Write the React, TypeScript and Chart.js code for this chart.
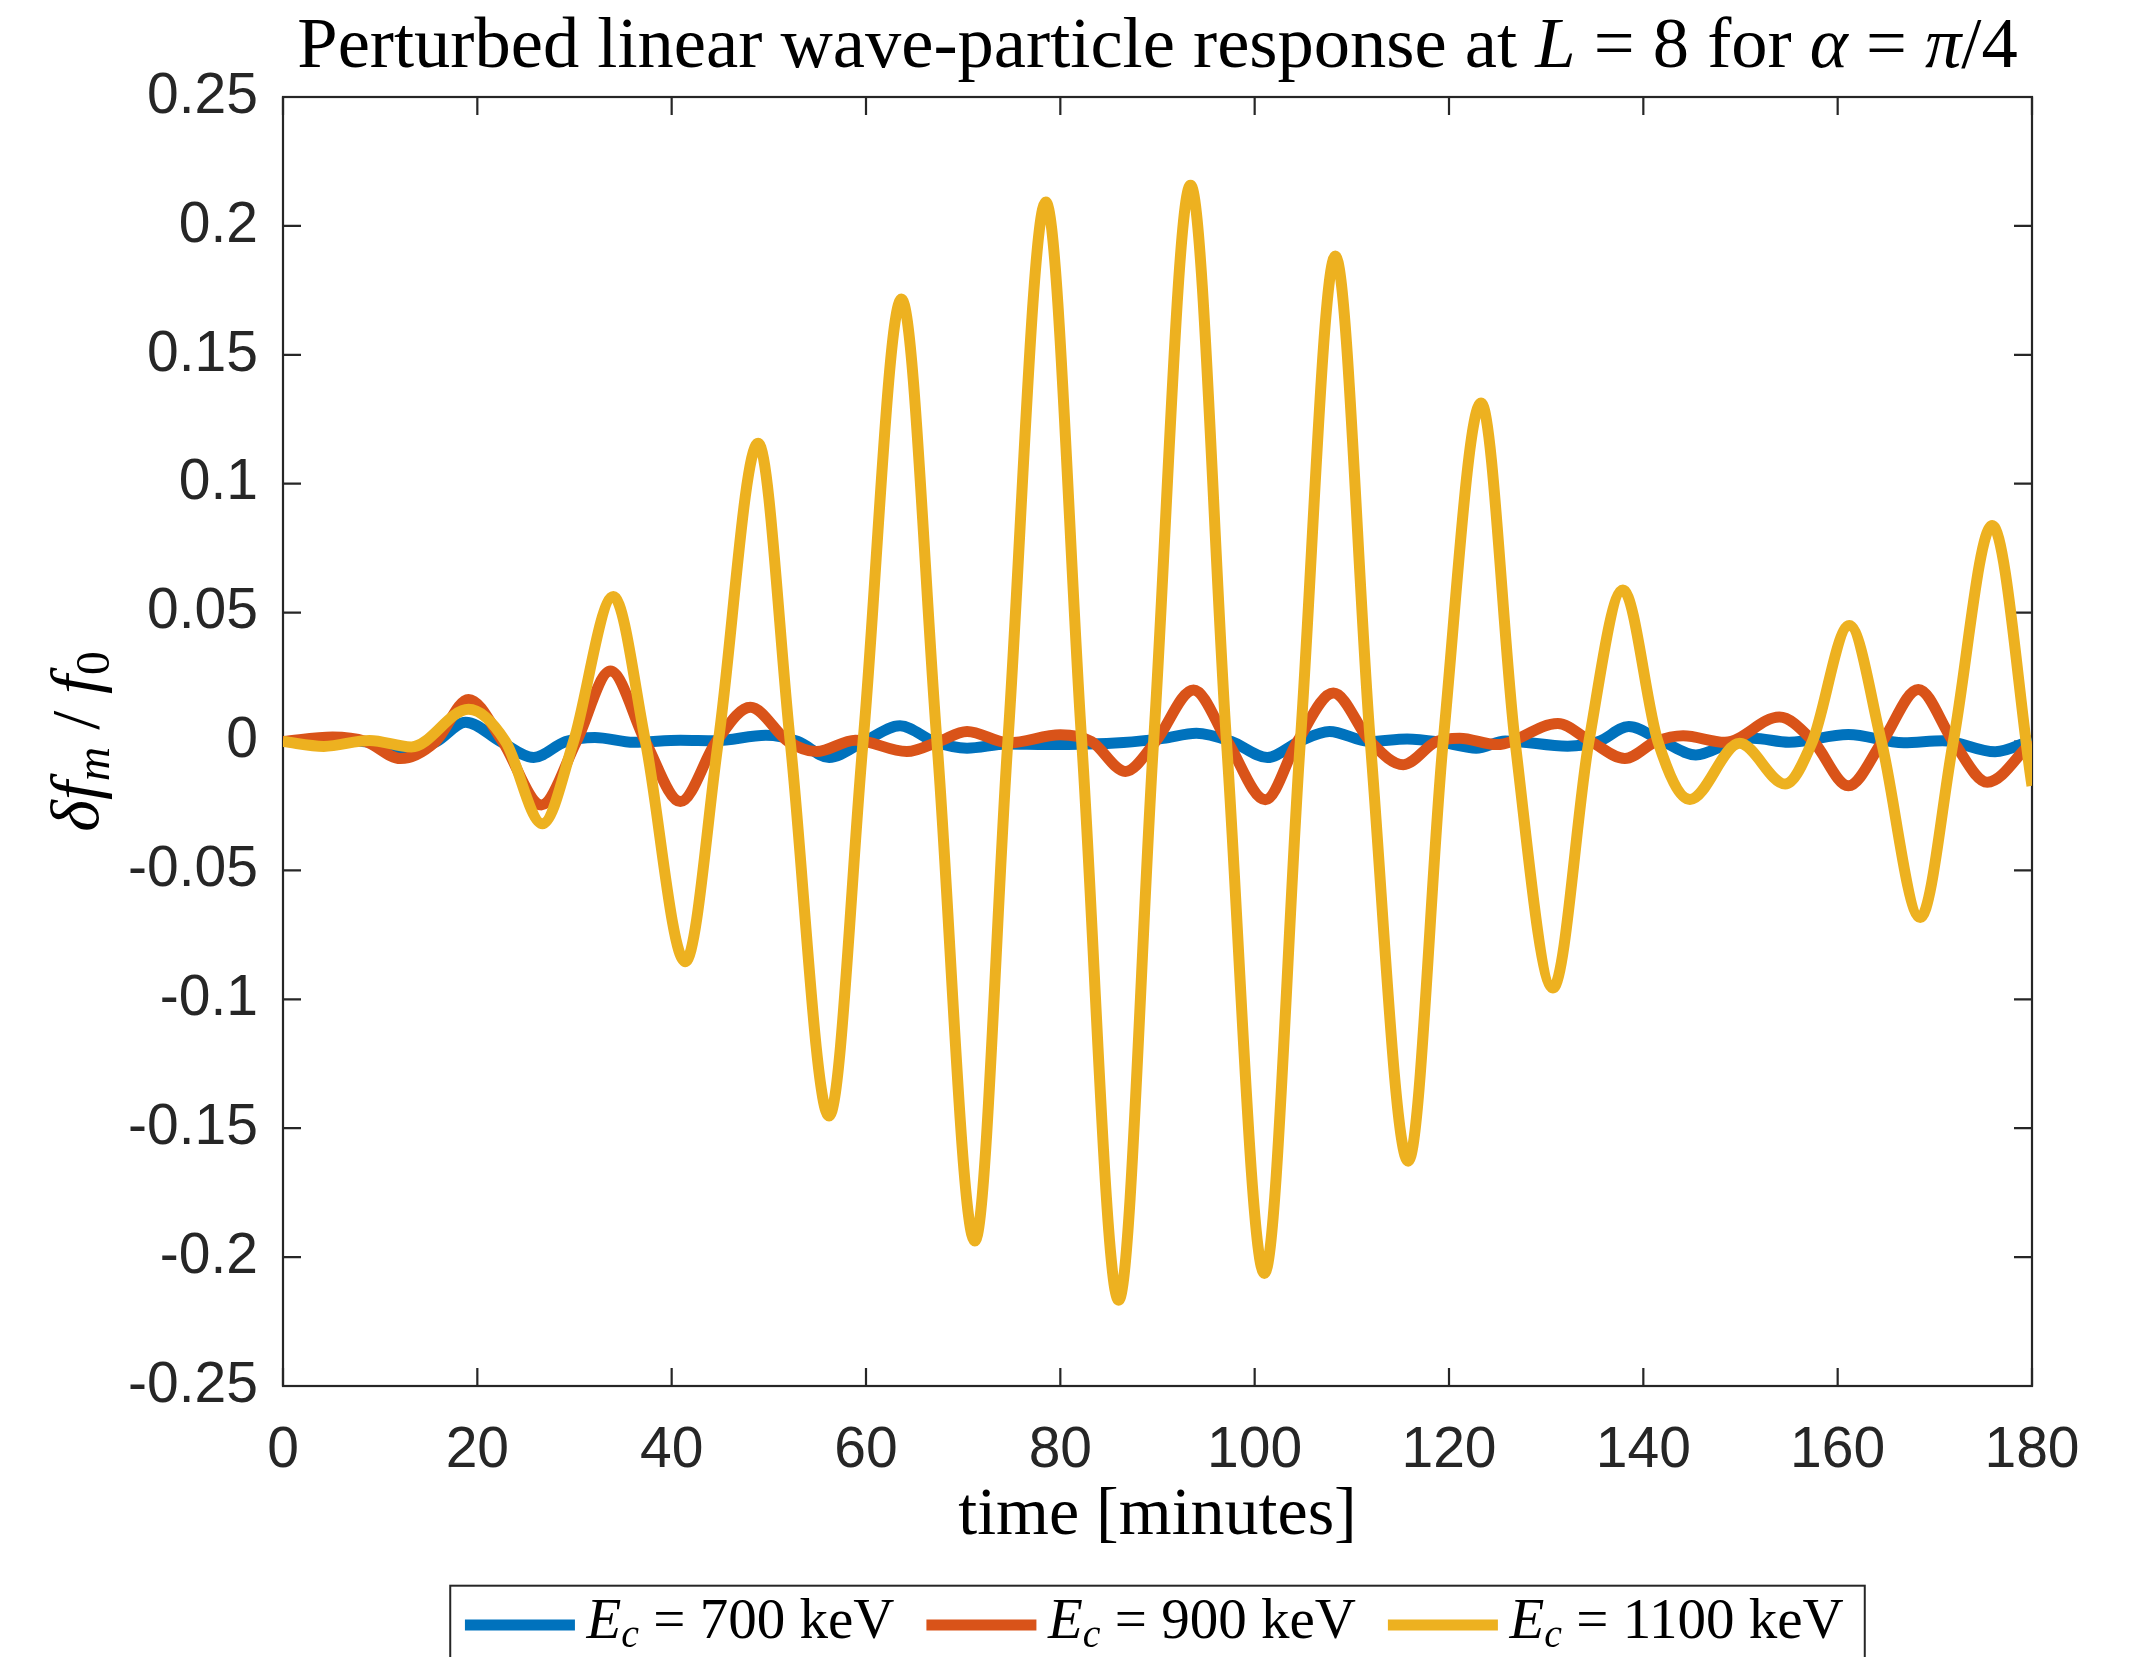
import React, { useEffect, useRef } from 'react';
import { Chart, registerables } from 'chart.js';

Chart.register(...registerables);

// ---------- data ----------
const X_TICKS = [0, 20, 40, 60, 80, 100, 120, 140, 160, 180];
const X_TICK_LABELS = ['0', '20', '40', '60', '80', '100', '120', '140', '160', '180'];
const Y_TICKS = [-0.25, -0.2, -0.15, -0.1, -0.05, 0, 0.05, 0.1, 0.15, 0.2, 0.25];
const Y_TICK_LABELS = ['-0.25', '-0.2', '-0.15', '-0.1', '-0.05', '0', '0.05', '0.1', '0.15', '0.2', '0.25'];

const SERIES_ENERGY_KEV = [700, 900, 1100];
const SERIES_COLORS = ['#0072BD', '#D95319', '#EDB120'];

// Ec = 700 keV
const T_700 = [0, 6, 9.5, 13.0, 15.8, 18.8, 22.4, 25.8, 29.1, 32.1, 36.1, 40.9, 44.5, 49.7, 53.0, 56.2, 59.8, 63.5, 67.0, 70.4, 74.5, 78.6, 86.5, 90.6, 94.0, 97.6, 101.3, 104.6, 107.7, 111.8, 115.7, 119.5, 122.8, 125.8, 132.2, 135.4, 138.5, 142.0, 145.4, 149.0, 151.3, 155.0, 161.1, 166.8, 170.8, 176.2, 180];
const V_700 = [0, 0.0003, -0.0005, -0.0035, 0, 0.0075, 0, -0.0062, 0, 0.0016, -0.0003, 0.0005, 0.0003, 0.0024, 0, -0.0062, 0, 0.0061, 0, -0.0026, -0.001, -0.0012, -0.0004, 0.0012, 0.0032, 0, -0.0062, 0, 0.0039, 0, 0.001, -0.0005, -0.0026, 0.0002, -0.0018, 0, 0.0058, 0, -0.0052, -0.0005, 0.0013, -0.0003, 0.0027, -0.0005, 0.0003, -0.004, 0.0005];

// Ec = 900 keV
const T_900 = [0, 5.1, 8.5, 12.1, 15.7, 19.1, 22.6, 26.6, 30.2, 33.7, 37.3, 40.9, 44.6, 48.1, 52.0, 54.9, 58.9, 64.2, 67.5, 70.4, 74.7, 80.0, 83.2, 86.7, 89.8, 93.7, 97.2, 101.1, 104.4, 108.1, 111.9, 115.3, 118.7, 121.1, 124.9, 131.2, 134.6, 138.1, 141.3, 144.1, 148.4, 154.0, 157.5, 161.1, 164.6, 168.3, 171.9, 175.4, 180];
const V_900 = [0, 0.0017, 0, -0.0066, 0, 0.0163, 0, -0.0246, 0, 0.0273, 0, -0.0233, 0, 0.0133, 0, -0.0039, 0.0005, -0.0039, 0, 0.0039, -0.0005, 0.0026, 0, -0.0116, 0, 0.020, 0, -0.0226, 0, 0.0188, 0, -0.009, 0, 0.0013, -0.0012, 0.007, 0, -0.0066, 0, 0.0022, -0.0003, 0.0095, 0, -0.0172, 0, 0.0202, 0, -0.0158, 0];

// Ec = 1100 keV
const T_1100 = [0, 4.2, 8.9, 13.2, 19.1, 22.9, 26.7, 29.9, 34.0, 37.3, 41.4, 44.8, 48.9, 52.2, 56.2, 59.7, 63.65, 67.3, 71.2, 74.6, 78.5, 82.2, 86.0, 89.6, 93.4, 97.1, 101.0, 104.7, 108.3, 111.9, 115.8, 119.4, 123.3, 126.8, 130.7, 134.4, 137.9, 141.5, 144.8, 149.9, 154.6, 157.4, 161.2, 164.5, 168.5, 171.9, 175.9, 180];
const V_1100 = [0, -0.0019, 0.0004, -0.0021, 0.0125, 0, -0.0319, 0, 0.0562, 0, -0.0854, 0, 0.1157, 0, -0.1453, 0, 0.1716, 0, -0.1938, 0, 0.2093, 0, -0.2167, 0, 0.2158, 0, -0.2064, 0, 0.1883, 0, -0.1628, 0, 0.1313, 0, -0.0956, 0, 0.0588, 0, -0.0225, -0.0007, -0.0165, 0, 0.045, 0, -0.0683, 0, 0.0838, -0.0172];

const SERIES_T = [T_700, T_900, T_1100];
const SERIES_V = [V_700, V_900, V_1100];

// ---------- rich text helpers ----------
type Piece = { text: string; italic?: boolean; sub?: boolean };
const SERIF = '"Liberation Serif", "DejaVu Serif", "Times New Roman", serif';
const SANS = '"Liberation Sans", Arial, Helvetica, sans-serif';

function pieceFont(p: Piece, size: number) {
  const s = p.sub ? size * 0.7 : size;
  return `${p.italic ? 'italic ' : ''}${s}px ${SERIF}`;
}
function measurePieces(ctx: CanvasRenderingContext2D, pieces: Piece[], size: number) {
  let w = 0;
  for (const p of pieces) {
    ctx.font = pieceFont(p, size);
    w += ctx.measureText(p.text).width;
  }
  return w;
}
function drawPieces(ctx: CanvasRenderingContext2D, pieces: Piece[], x: number, y: number, size: number, color: string) {
  ctx.fillStyle = color;
  ctx.textAlign = 'left';
  ctx.textBaseline = 'alphabetic';
  let cx = x;
  for (const p of pieces) {
    ctx.font = pieceFont(p, size);
    ctx.fillText(p.text, cx, p.sub ? y + size * 0.16 : y);
    cx += ctx.measureText(p.text).width;
  }
  return cx - x;
}

const TITLE_PIECES: Piece[] = [
  { text: 'Perturbed linear wave-particle response at ' },
  { text: 'L', italic: true },
  { text: ' = 8 for ' },
  { text: 'α', italic: true },
  { text: ' = ' },
  { text: 'π', italic: true },
  { text: '/4' },
];
const YLABEL_PIECES: Piece[] = [
  { text: 'δ', italic: true },
  { text: 'f', italic: true },
  { text: 'm', italic: true, sub: true },
  { text: ' / ' },
  { text: 'f', italic: true },
  { text: '0', sub: true },
];
function legendPieces(kev: number): Piece[] {
  return [
    { text: 'E', italic: true },
    { text: 'c', italic: true, sub: true },
    { text: ` = ${kev} keV` },
  ];
}

// ---------- plugins ----------
const framePlugin = {
  id: 'matlabFrame',
  beforeDatasetsDraw(chart: any) {
    const { ctx, chartArea: a, scales } = chart;
    const tick = 18;
    ctx.save();
    ctx.strokeStyle = '#262626';
    ctx.lineWidth = 2.2;
    ctx.strokeRect(a.left, a.top, a.right - a.left, a.bottom - a.top);
    ctx.beginPath();
    for (const v of X_TICKS) {
      const px = scales.x.getPixelForValue(v);
      ctx.moveTo(px, a.bottom);
      ctx.lineTo(px, a.bottom - tick);
      ctx.moveTo(px, a.top);
      ctx.lineTo(px, a.top + tick);
    }
    for (const v of Y_TICKS) {
      const py = scales.y.getPixelForValue(v);
      ctx.moveTo(a.left, py);
      ctx.lineTo(a.left + tick, py);
      ctx.moveTo(a.right, py);
      ctx.lineTo(a.right - tick, py);
    }
    ctx.stroke();
    ctx.restore();
  },
};

const textPlugin = {
  id: 'richTexts',
  afterDraw(chart: any) {
    const { ctx, chartArea: a } = chart;
    const cx = (a.left + a.right) / 2;
    ctx.save();
    // title
    const tSize = 72.5;
    const tw = measurePieces(ctx, TITLE_PIECES, tSize);
    drawPieces(ctx, TITLE_PIECES, cx - tw / 2, 67, tSize, '#000000');
    // y label (rotated)
    const ySize = 68;
    const yw = measurePieces(ctx, YLABEL_PIECES, ySize);
    ctx.save();
    ctx.translate(98, (a.top + a.bottom) / 2);
    ctx.rotate(-Math.PI / 2);
    drawPieces(ctx, YLABEL_PIECES, -yw / 2, 0, ySize, '#000000');
    ctx.restore();
    // legend
    const lSize = 57;
    const padL = 14.7, lineLen = 110, gapText = 11.6, itemGap = 32, padR = 21;
    const widths = SERIES_ENERGY_KEV.map((k) => measurePieces(ctx, legendPieces(k), lSize));
    const total = padL + widths.reduce((s, w) => s + w, 0) + SERIES_ENERGY_KEV.length * (lineLen + gapText) + (SERIES_ENERGY_KEV.length - 1) * itemGap + padR;
    const boxLeft = cx - total / 2;
    const boxTop = 1585.7;
    ctx.fillStyle = '#ffffff';
    ctx.fillRect(boxLeft, boxTop, total, 200);
    ctx.strokeStyle = '#262626';
    ctx.lineWidth = 2;
    ctx.strokeRect(boxLeft, boxTop, total, 200);
    let x = boxLeft + padL;
    chart.data.datasets.forEach((ds: any, i: number) => {
      ctx.strokeStyle = ds.borderColor;
      ctx.lineWidth = 11;
      ctx.lineCap = 'butt';
      ctx.beginPath();
      ctx.moveTo(x, 1625);
      ctx.lineTo(x + lineLen, 1625);
      ctx.stroke();
      x += lineLen + gapText;
      drawPieces(ctx, legendPieces(SERIES_ENERGY_KEV[i]), x, 1638, lSize, '#000000');
      x += widths[i] + itemGap;
    });
    ctx.restore();
  },
};

// ---------- component ----------
export default function App() {
  const ref = useRef<HTMLCanvasElement>(null);
  useEffect(() => {
    document.body.style.margin = '0';
    const datasets = SERIES_ENERGY_KEV.map((kev, i) => ({
      label: `E_c = ${kev} keV`,
      data: SERIES_T[i].map((t, j) => ({ x: t, y: SERIES_V[i][j] })),
      borderColor: SERIES_COLORS[i],
      backgroundColor: SERIES_COLORS[i],
      borderWidth: 11,
      borderCapStyle: 'butt' as const,
      borderJoinStyle: 'round' as const,
      pointRadius: 0,
      cubicInterpolationMode: 'monotone' as const,
      fill: false,
      order: SERIES_ENERGY_KEV.length - 1 - i,
    }));
    const chart = new Chart(ref.current as HTMLCanvasElement, {
      type: 'line',
      data: { datasets },
      options: {
        animation: false,
        responsive: false,
        devicePixelRatio: 1,
        layout: { padding: { top: 97, right: 99, bottom: 0, left: 0 } },
        plugins: { legend: { display: false }, title: { display: false }, tooltip: { enabled: false } },
        scales: {
          x: {
            type: 'linear',
            min: 0,
            max: 180,
            afterBuildTicks: (s: any) => { s.ticks = X_TICKS.map((v) => ({ value: v })); },
            afterFit: (s: any) => { s.height = 271; },
            grid: { display: false, drawTicks: false, tickLength: 0 },
            border: { display: false },
            ticks: {
              padding: 31,
              maxRotation: 0,
              autoSkip: false,
              color: '#262626',
              font: { family: SANS, size: 57 },
              callback: (v: any) => {
                const i = X_TICKS.findIndex((t) => Math.abs(t - Number(v)) < 1e-9);
                return i >= 0 ? X_TICK_LABELS[i] : '';
              },
            },
            title: {
              display: true,
              text: 'time [minutes]',
              color: '#000000',
              font: { family: SERIF, size: 68 },
              padding: { top: 0, bottom: 100 },
            },
          },
          y: {
            type: 'linear',
            min: -0.25,
            max: 0.25,
            afterBuildTicks: (s: any) => { s.ticks = Y_TICKS.map((v) => ({ value: v })); },
            afterFit: (s: any) => { s.width = 283; },
            grid: { display: false, drawTicks: false, tickLength: 0 },
            border: { display: false },
            ticks: {
              padding: 25,
              autoSkip: false,
              color: '#262626',
              font: { family: SANS, size: 57 },
              callback: (v: any) => {
                const i = Y_TICKS.findIndex((t) => Math.abs(t - Number(v)) < 1e-9);
                return i >= 0 ? Y_TICK_LABELS[i] : '';
              },
            },
          },
        },
      },
      plugins: [framePlugin, textPlugin],
    } as any);
    return () => chart.destroy();
  }, []);
  return (
    <canvas
      ref={ref}
      width={2131}
      height={1657}
      style={{ display: 'block', width: '2131px', height: '1657px' }}
    />
  );
}
